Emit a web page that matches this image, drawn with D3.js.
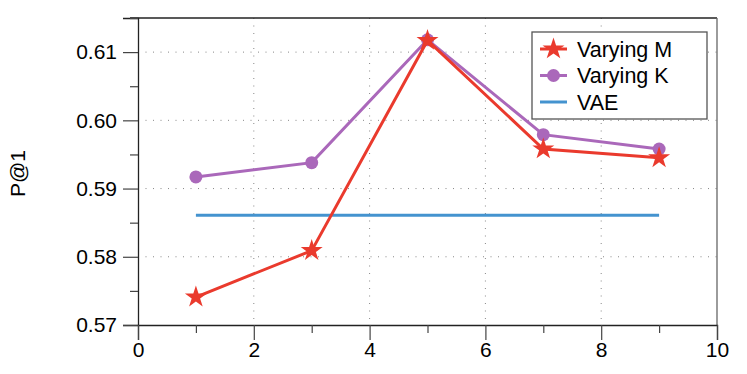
<!DOCTYPE html>
<meta charset="utf-8">
<style>
body { margin: 0; background: #fff; }
svg text { font-family: "Liberation Sans", Arial, sans-serif; }
</style>
<body>
<svg width="747" height="374"></svg>
<script src="https://d3js.org/d3.v7.min.js"></script>
<script>
// values
var xs = [1, 3, 5, 7, 9];
var varyingM = [0.5741, 0.5809, 0.6117, 0.5958, 0.5945];
var varyingK = [0.5917, 0.5938, 0.6118, 0.5979, 0.5958];
var vae = [0.5861, 0.5861];
var vaeX = [1, 9];
var xTicks = [0, 2, 4, 6, 8, 10];
var yTicks = [0.57, 0.58, 0.59, 0.60, 0.61];
var seriesNames = ["Varying M", "Varying K", "VAE"];

var red = "#ea3a2d", purple = "#aa68ba", blue = "#4493cf";

var svg = d3.select("svg"),
    margin = {top: 18, right: 30, bottom: 49, left: 138},
    width = +svg.attr("width") - margin.left - margin.right,
    height = +svg.attr("height") - margin.top - margin.bottom;

var x = d3.scaleLinear().domain([0, 10]).range([0, width]);
var y = d3.scaleLinear().domain([0.57, 0.615]).range([height, 0]);

var g = svg.append("g")
    .attr("transform", "translate(" + margin.left + "," + margin.top + ")");

// dotted grid
g.selectAll(".gy").data(yTicks.slice(1)).enter().append("line")
    .attr("x1", 0).attr("x2", width)
    .attr("y1", d => y(d)).attr("y2", d => y(d))
    .attr("stroke", "#888").attr("stroke-width", 1)
    .attr("stroke-dasharray", "1,6.5");
g.selectAll(".gx").data(xTicks.slice(1, -1)).enter().append("line")
    .attr("y1", 0).attr("y2", height)
    .attr("x1", d => x(d)).attr("x2", d => x(d))
    .attr("stroke", "#888").attr("stroke-width", 1)
    .attr("stroke-dasharray", "1,6.5");

// frame top / right
g.append("line").attr("x1", -8).attr("x2", width).attr("y1", 0).attr("y2", 0)
    .attr("stroke", "#222").attr("stroke-width", 1.3);
g.append("line").attr("x1", width).attr("x2", width).attr("y1", 0).attr("y2", height)
    .attr("stroke", "#666").attr("stroke-width", 1.3);

// axes
var yAxis = g.append("g")
    .call(d3.axisLeft(y).tickValues(yTicks).tickFormat(d3.format(".2f")).tickSize(15).tickPadding(6));
var yMinor = g.append("g")
    .call(d3.axisLeft(y).tickValues([0.575, 0.585, 0.595, 0.605, 0.615]).tickSize(8).tickFormat(""));
var xAxis = g.append("g")
    .attr("transform", "translate(0," + height + ")")
    .call(d3.axisBottom(x).tickValues(xTicks).tickSize(15).tickPadding(4));
var xMinor = g.append("g")
    .attr("transform", "translate(0," + height + ")")
    .call(d3.axisBottom(x).tickValues([1, 3, 5, 7, 9]).tickSize(8).tickFormat(""));

[yAxis, yMinor, xAxis, xMinor].forEach(function(a) {
  a.attr("font-size", 21).attr("font-family", "'Liberation Sans', Arial, sans-serif");
  a.select(".domain").attr("stroke", "#222").attr("stroke-width", 1.3);
  a.selectAll(".tick line").attr("stroke", "#444").attr("stroke-width", 1.2);
  a.selectAll("text").attr("fill", "#000");
});
yMinor.select(".domain").remove();
xMinor.select(".domain").remove();
xAxis.selectAll("text").attr("dy", "0.62em");

svg.append("text")
    .attr("transform", "translate(25,173.5) rotate(-90)")
    .attr("text-anchor", "middle")
    .attr("font-size", 21)
    .text("P@1");

var line = d3.line().x(d => x(d[0])).y(d => y(d[1]));

// VAE
g.append("path").datum(vaeX.map((d, i) => [d, vae[i]]))
    .attr("d", line).attr("fill", "none").attr("stroke", blue).attr("stroke-width", 3);

// Varying K
var kData = xs.map((d, i) => [d, varyingK[i]]);
g.append("path").datum(kData)
    .attr("d", line).attr("fill", "none").attr("stroke", purple).attr("stroke-width", 3);
g.selectAll(".kdot").data(kData).enter().append("circle")
    .attr("cx", d => x(d[0])).attr("cy", d => y(d[1])).attr("r", 6.5)
    .attr("fill", purple);

// Varying M
var star = d3.symbol().type(d3.symbolStar).size(150);
var mData = xs.map((d, i) => [d, varyingM[i]]);
g.append("path").datum(mData)
    .attr("d", line).attr("fill", "none").attr("stroke", red).attr("stroke-width", 3);
g.selectAll(".mstar").data(mData).enter().append("path")
    .attr("d", star)
    .attr("transform", d => "translate(" + x(d[0]) + "," + y(d[1]) + ")")
    .attr("fill", red);

// legend
var lg = svg.append("g").attr("transform", "translate(532,32)");
lg.append("rect").attr("width", 175).attr("height", 87)
    .attr("fill", "#fff").attr("stroke", "#555").attr("stroke-width", 1.3);
var colors = [red, purple, blue];
seriesNames.forEach(function(name, i) {
  var yy = 17 + i * 26.5;
  lg.append("line").attr("x1", 8).attr("x2", 35).attr("y1", yy).attr("y2", yy)
      .attr("stroke", colors[i]).attr("stroke-width", 3);
  if (i === 0) {
    lg.append("path").attr("d", star).attr("transform", "translate(21.5," + yy + ")").attr("fill", red);
  } else if (i === 1) {
    lg.append("circle").attr("cx", 21.5).attr("cy", yy).attr("r", 6.5).attr("fill", purple);
  }
  lg.append("text").attr("x", 45).attr("y", yy).attr("dy", "0.35em")
      .attr("font-size", 21.5).text(name);
});
</script>
</body>
